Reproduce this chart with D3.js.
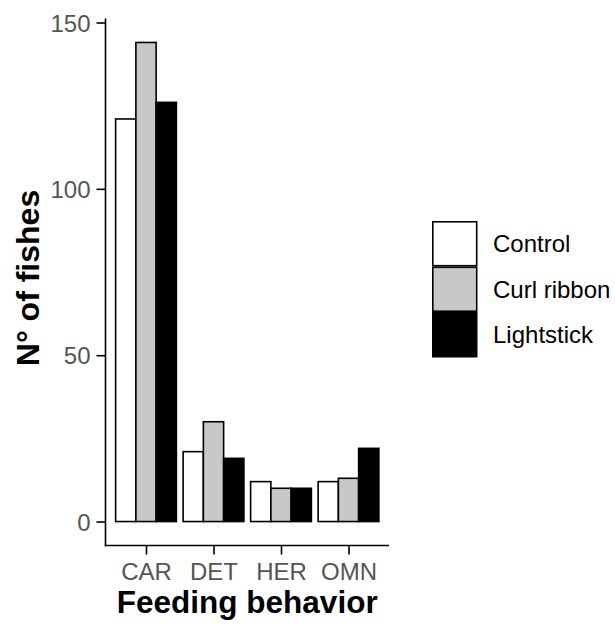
<!DOCTYPE html>
<html>
<head>
<meta charset="utf-8">
<script src="https://cdn.jsdelivr.net/npm/d3@7"></script>
<style>
  body { margin: 0; background: #fff; }
  svg { display: block; font-family: "Liberation Sans", Arial, sans-serif; }
</style>
</head>
<body>
<div id="chart"></div>
<script>
// data
let categories = ["CAR", "DET", "HER", "OMN"];
let series = ["Control", "Curl ribbon", "Lightstick"];
let control = [121, 21, 12, 12];
let curlRibbon = [144, 30, 10, 13];
let lightstick = [126, 19, 10, 22];
let yTicks = [0, 50, 100, 150];
let fills = ["#ffffff", "#c8c8c8", "#000000"];

let svgWidth = 615;
let svgHeight = 625;

// panel edges
let panel = { left: 105.5, right: 389, top: 18.5, bottom: 545.5 };

let svg = d3.select("#chart")
  .append("svg")
  .attr("width", svgWidth)
  .attr("height", svgHeight);

let values = [control, curlRibbon, lightstick];
let rows = [];
categories.forEach(function (cat, i) {
  series.forEach(function (s, j) {
    rows.push({ cat: cat, series: s, value: values[j][i], idx: j });
  });
});

// ggplot style expansion: discrete 0.6, continuous 5%
let xScale = d3.scalePoint()
  .domain(categories)
  .range([panel.left, panel.right])
  .padding(0.6);
let step = xScale.step();

let xInner = d3.scaleBand()
  .domain(series)
  .range([-0.45 * step, 0.45 * step]);

let yMax = d3.max(rows, d => d.value);
let yScale = d3.scaleLinear()
  .domain([-0.05 * yMax, yMax * 1.05])
  .range([panel.bottom, panel.top]);

let colour = d3.scaleOrdinal().domain(series).range(fills);

// bars
svg.append("g")
  .selectAll("rect")
  .data(rows)
  .enter()
  .append("rect")
  .attr("x", d => xScale(d.cat) + xInner(d.series))
  .attr("y", d => yScale(d.value))
  .attr("width", xInner.bandwidth())
  .attr("height", d => yScale(0) - yScale(d.value))
  .attr("fill", d => colour(d.series))
  .attr("stroke", "#000")
  .attr("stroke-width", 1.6);

// axes
let yAxis = d3.axisLeft(yScale).tickValues(yTicks).tickSize(9).tickPadding(6);
let xAxis = d3.axisBottom(xScale).tickSize(9).tickPadding(8);

let yg = svg.append("g")
  .attr("transform", `translate(${panel.left}, 0)`)
  .call(yAxis);
let xg = svg.append("g")
  .attr("transform", `translate(0, ${panel.bottom})`)
  .call(xAxis);

[yg, xg].forEach(function (g) {
  g.select(".domain").remove();
  g.selectAll(".tick line").attr("stroke", "#000").attr("stroke-width", 1.6);
  g.selectAll(".tick text")
    .attr("fill", "#555555")
    .style("font-size", "24px")
    .style("font-family", "Liberation Sans, Arial, sans-serif");
});
yg.selectAll(".tick text").attr("dy", "0.36em");

// axis lines of theme_classic
svg.append("line")
  .attr("x1", panel.left).attr("x2", panel.left)
  .attr("y1", panel.top).attr("y2", panel.bottom + 0.8)
  .attr("stroke", "#000").attr("stroke-width", 1.6);
svg.append("line")
  .attr("x1", panel.left - 0.8).attr("x2", panel.right)
  .attr("y1", panel.bottom).attr("y2", panel.bottom)
  .attr("stroke", "#000").attr("stroke-width", 1.6);

// axis titles
svg.append("text")
  .attr("x", (panel.left + panel.right) / 2)
  .attr("y", 613)
  .attr("text-anchor", "middle")
  .style("font-size", "31.5px")
  .style("font-weight", "bold")
  .text("Feeding behavior");

svg.append("text")
  .attr("transform", "translate(39, 278) rotate(-90)")
  .attr("text-anchor", "middle")
  .style("font-size", "32px")
  .style("font-weight", "bold")
  .text("N° of fishes");

// legend
let keySize = 45.5;
let legend = svg.append("g").attr("transform", "translate(432, 221)");
let items = legend.selectAll("g")
  .data(series)
  .enter()
  .append("g")
  .attr("transform", (d, i) => `translate(0, ${i * keySize})`);

items.append("rect")
  .attr("x", 0.8).attr("y", 0.8)
  .attr("width", keySize - 1.6)
  .attr("height", keySize - 1.6)
  .attr("fill", d => colour(d))
  .attr("stroke", "#000")
  .attr("stroke-width", 1.6);

items.append("text")
  .attr("x", 61)
  .attr("y", keySize / 2)
  .attr("dy", "0.36em")
  .style("font-size", "24px")
  .attr("fill", "#000")
  .text(d => d);
</script>
</body>
</html>
